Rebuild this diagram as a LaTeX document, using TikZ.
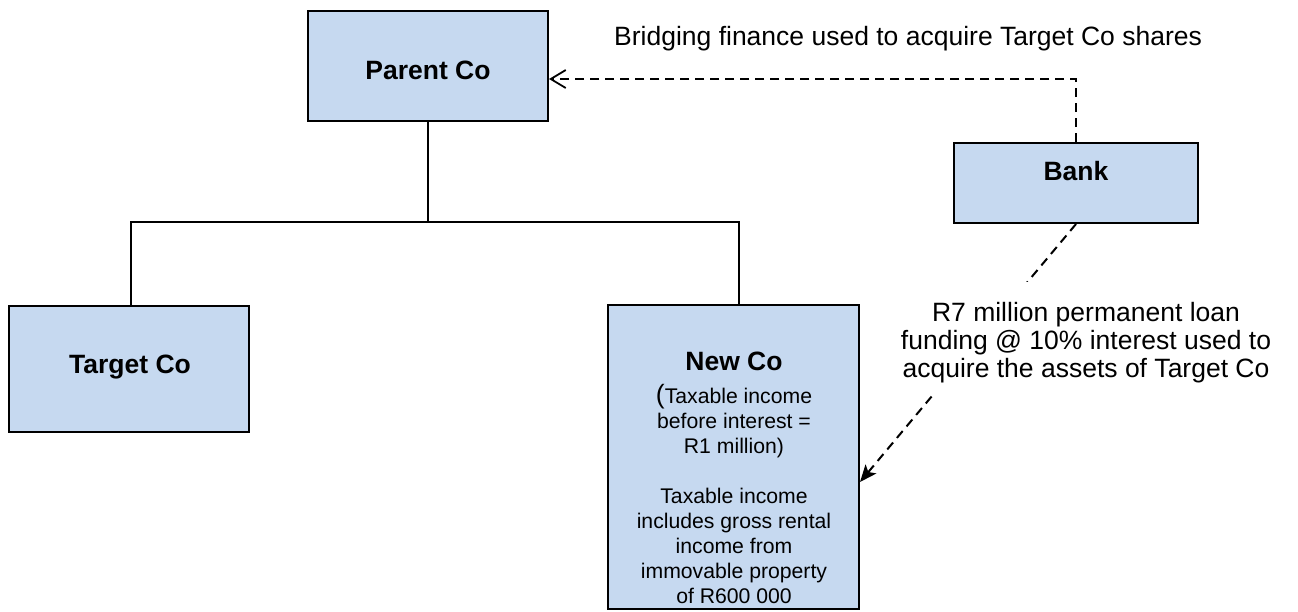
\documentclass[tikz,border=0pt]{standalone}
\usepackage{fontspec}
\setmainfont{Liberation Sans}
\usetikzlibrary{arrows.meta}
\definecolor{boxfill}{RGB}{198,217,240}
\begin{document}
\begin{tikzpicture}[x=1pt,y=-1pt,
  box/.style={draw=black, line width=2pt, fill=boxfill, inner sep=0pt, rectangle},
  bigtxt/.style={inner sep=0pt, font=\fontsize{26.5}{28}\selectfont},
  boldtxt/.style={inner sep=0pt, font=\fontsize{26.5}{28}\selectfont\bfseries},
  smalltxt/.style={inner sep=0pt, font=\fontsize{21.2}{25}\selectfont},
  tree/.style={line width=1.7pt},
  dline/.style={line width=2pt, dash pattern=on 9pt off 6pt},
  mask/.style={fill=white, draw=none, inner sep=0pt, rectangle},
]
\useasboundingbox (0,0) rectangle (1298,611);
% boxes
\node[box, minimum width=240pt, minimum height=110pt] (parent) at (428,66) {};
\node[box, minimum width=240pt, minimum height=126pt] (target) at (129,369) {};
\node[box, minimum width=251pt, minimum height=304pt] (newco) at (733.5,457) {};
\node[box, minimum width=244pt, minimum height=80pt] (bank) at (1076,183) {};
% tree connectors
\coordinate (jl) at (131,222);
\coordinate (jr) at (739,222);
\draw[tree] (parent.south) -- (parent.south |- jl);
\draw[tree] (target.north -| jl) |- (jr) -- (newco.north -| jr);
% bank to parent
\draw[dline, -{Straight Barb[length=15pt,width=18pt,line width=1.8pt]}] (bank.north) |- ([yshift=-13pt]parent.east);
% bank to new co
\draw[dline, -{Stealth[length=17pt,width=14pt,inset=4pt]}] (bank.south) -- ([yshift=-25pt]newco.east);
\node[mask, minimum width=380pt, minimum height=113pt] (lblmask) at (1090,338.5) {};
\node[bigtxt, anchor=base] (lbl) at (1086,321) {\begin{tabular}[t]{@{}c@{}}R7 million permanent loan\\ funding @ 10\% interest used to\\ acquire the assets of Target Co\end{tabular}};
% title
\node[bigtxt, anchor=base west] (title) at (614,45) {Bridging finance used to acquire Target Co shares};
% box texts
\node[boldtxt, anchor=base] (parenttxt) at (428,79) {Parent Co};
\node[boldtxt, anchor=base] (banktxt) at (1076,180) {Bank};
\node[boldtxt, anchor=base] (targettxt) at (130,373) {Target Co};
\node[smalltxt, anchor=base] (newcotxt) at (734,370) {\begin{tabular}[t]{@{}c@{}}{\fontsize{26.5}{25}\selectfont\bfseries New Co}\\[7pt]
{\fontsize{26.5}{25}\selectfont(}Taxable income\\ before interest =\\ R1 million)\\ \\ Taxable income\\ includes gross rental\\ income from\\ immovable property\\ of R600 000\end{tabular}};
\end{tikzpicture}
\end{document}
